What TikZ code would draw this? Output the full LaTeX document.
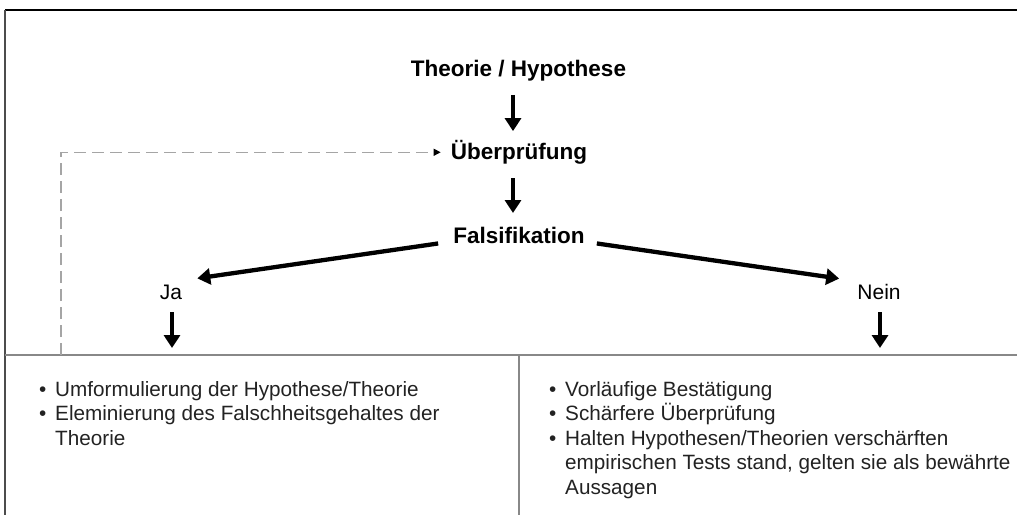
\documentclass[tikz,border=0pt]{standalone}
\usepackage{fontspec}
\setmainfont{Liberation Sans}
\usepackage{tikz}
\usetikzlibrary{arrows.meta, positioning}
\definecolor{linegray}{RGB}{136,136,136}
\definecolor{dashgray}{RGB}{165,165,165}
\definecolor{textgray}{RGB}{34,34,34}

\begin{document}
\begin{tikzpicture}[x=1pt, y=-1pt,
    title/.style={font=\fontsize{22.5}{27}\selectfont\bfseries, inner sep=0pt, anchor=base},
    answer/.style={font=\fontsize{21}{25}\selectfont, inner sep=0pt, anchor=base},
    body/.style={font=\fontsize{20.7}{25}\selectfont, text=textgray, inner sep=0pt, anchor=base west},
    bul/.style={body, anchor=base east, xshift=-8.4pt},
    bigarrow/.style={line width=4.3pt, -{Triangle[width=16pt,length=13pt]}},
    feedback/.style={dashgray, line width=1.2pt, dash pattern=on 12pt off 6pt,
        -{Triangle[width=7pt,length=7pt,color=black]}}]
    \useasboundingbox (0,0) rectangle (1017,515);

    % frame
    \draw[line width=2pt] (5,10) -- (1017,10);
    \draw[line width=1.5pt, black!70] (5,10) -- (5,515);
    \draw[line width=2pt, linegray] (5,355) -- (1017,355);
    \draw[line width=1.5pt, linegray] (519,355) -- (519,515);

    \node[title] (theo) at (518.5,76) {Theorie / Hypothese};
    \node[title] (ueber) at (519,159.5) {Überprüfung};
    \node[title] (falsi) at (519,243.5) {Falsifikation};
    \node[answer] (ja) at (171,299) {Ja};
    \node[answer] (nein) at (879,299) {Nein};
    \coordinate (jabox) at (172,355);
    \coordinate (neinbox) at (880,355);
    \coordinate (back) at (61,355);

    \draw[bigarrow] ([xshift=-5.5pt,yshift=-14pt]theo.south) -- ([xshift=-6pt,yshift=9pt]ueber.north);
    \draw[bigarrow] ([xshift=-6pt,yshift=-14pt]ueber.south) -- ([xshift=-6pt,yshift=14pt]falsi.north);
    \draw[bigarrow] ([xshift=-15pt,yshift=-8pt]falsi.west) -- ([xshift=15pt,yshift=6pt]ja.north east);
    \draw[bigarrow] ([xshift=12pt,yshift=-8pt]falsi.east) -- ([xshift=-18pt,yshift=5pt]nein.north west);
    \draw[bigarrow] ([xshift=1pt,yshift=-13pt]ja.south) -- ([yshift=7pt]jabox);
    \draw[bigarrow] ([xshift=1pt,yshift=-13pt]nein.south) -- ([yshift=7pt]neinbox);

    % back to the test
    \draw[feedback] (back) |- ([xshift=-10pt]ueber.west);

    % left box
    \node[body] (ja1) at (55,396) {Umformulierung der Hypothese/Theorie};
    \node[body] (ja2) at (55,420.5) {Eleminierung des Falschheitsgehaltes der};
    \node[body] (ja3) at (55,445) {Theorie};
    \node[bul] (jb1) at (ja1.base west) {\textbullet};
    \node[bul] (jb2) at (ja2.base west) {\textbullet};

    % right box
    \node[body] (ne1) at (565,396) {Vorläufige Bestätigung};
    \node[body] (ne2) at (565,420.5) {Schärfere Überprüfung};
    \node[body] (ne3) at (565,445) {Halten Hypothesen/Theorien verschärften};
    \node[body] (ne4) at (565,469.5) {empirischen Tests stand, gelten sie als bewährte};
    \node[body] (ne5) at (565,494) {Aussagen};
    \node[bul] (nb1) at (ne1.base west) {\textbullet};
    \node[bul] (nb2) at (ne2.base west) {\textbullet};
    \node[bul] (nb3) at (ne3.base west) {\textbullet};
\end{tikzpicture}
\end{document}
